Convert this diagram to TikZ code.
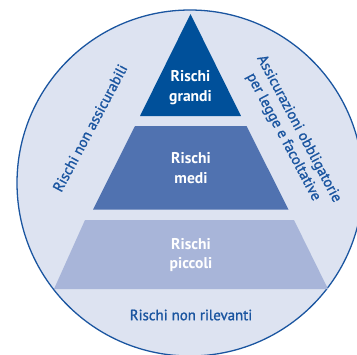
\documentclass[tikz,border=0pt]{standalone}
\usepackage{fontspec}
\setmainfont{PT Sans}
\newfontfamily\ringfont[FakeBold=1.1]{PT Sans}
\definecolor{ringfill}{HTML}{DDE3F1}
\definecolor{ringline}{HTML}{1A55A0}
\definecolor{bigrisk}{HTML}{00509A}
\definecolor{midrisk}{HTML}{5072B0}
\definecolor{smallrisk}{HTML}{A8B5D9}
\tikzset{
  outer/.style={text=ringline, font=\ringfont\fontsize{12.7}{15}\selectfont, align=center},
  layer/.style={text=white, font=\bfseries\fontsize{13.3}{17}\selectfont, align=center}
}

\begin{document}
\begin{tikzpicture}[x=0.03cm,y=-0.03cm]
	\useasboundingbox (0,0) rectangle (357,354);
	\begin{scope}
		\clip (0,0) rectangle (357,354);
		\draw[ringline, fill=ringfill, line width=1.1pt] (190,183) circle [radius=173];
	\end{scope}

	% the three layers of the pyramid
	\fill[bigrisk] (190.5,14) -- (241,116) -- (140,116) -- cycle;
	\fill[midrisk] (135,126) -- (246.5,126) -- (288.5,209.5) -- (93,209.5) -- cycle;
	\fill[smallrisk] (85,220) -- (294,220) -- (328,289) -- (54,289) -- cycle;

	\node[layer] (grandi) at (190.5,88) {Rischi\\grandi};
	\node[layer] (medi) at (191,168) {Rischi\\medi};
	\node[layer] (piccoli) at (191,255) {Rischi\\piccoli};

	\node[outer, rotate=62] (nonass) at (90,128) {Rischi non assicurabili};
	\node[outer, rotate=-62] (obblig) at (291,133) {Assicurazioni obbligatorie\\per legge e facoltative};
	\node[outer] (nonril) at (191,315) {Rischi non rilevanti};
\end{tikzpicture}
\end{document}
